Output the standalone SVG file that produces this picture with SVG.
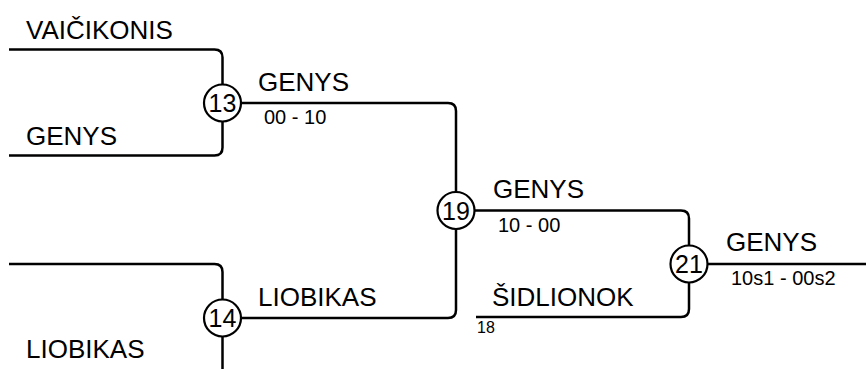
<svg xmlns="http://www.w3.org/2000/svg" width="866" height="369" viewBox="0 0 866 369">
<style>
.ln{fill:none;stroke:#000;stroke-width:2.5;stroke-linejoin:round}
.c{fill:#fff;stroke:#000;stroke-width:2.2}
.nm{font-family:"Liberation Sans",Arial,sans-serif;font-size:26px;fill:#000}
.sc{font-family:"Liberation Sans",Arial,sans-serif;font-size:20px;fill:#000}
.sm{font-family:"Liberation Sans",Arial,sans-serif;font-size:16px;fill:#000}
.num{font-family:"Liberation Sans",Arial,sans-serif;font-size:25px;fill:#000;text-anchor:middle}
</style>
<rect width="866" height="369" fill="#fff"/>
<g id="connectors">
<path class="ln" d="M9,49.5 H214.5 Q222.5,49.5 222.5,57.5 V147.5 Q222.5,155.5 214.5,155.5 H9"/>
<path class="ln" d="M222.5,103 H448 Q456,103 456,111 V310 Q456,318 448,318 H222.5"/>
<path class="ln" d="M9,264 H214.5 Q222.5,264 222.5,272 V369"/>
<path class="ln" d="M456,210.5 H681 Q689,210.5 689,218.5 V309 Q689,317 681,317 H476"/>
<path class="ln" d="M689,264 H866"/>
</g>
<g id="m13"><circle class="c" cx="222.5" cy="103" r="18.5"/><text class="num" x="222.5" y="112">13</text></g>
<g id="m14"><circle class="c" cx="222.5" cy="318" r="18.5"/><text class="num" x="222.5" y="327">14</text></g>
<g id="m19"><circle class="c" cx="456" cy="210.5" r="18.5"/><text class="num" x="456" y="219.5">19</text></g>
<g id="m21"><circle class="c" cx="689" cy="264" r="18.5"/><text class="num" x="689" y="273">21</text></g>
<g id="labels">
<text class="nm" x="26" y="39">VAIČIKONIS</text>
<text class="nm" x="26" y="145">GENYS</text>
<text class="nm" x="258" y="91">GENYS</text>
<text class="sc" x="264" y="124">00 - 10</text>
<text class="nm" x="26" y="358">LIOBIKAS</text>
<text class="nm" x="258" y="306">LIOBIKAS</text>
<text class="nm" x="493" y="198">GENYS</text>
<text class="sc" x="498" y="231.5">10 - 00</text>
<text class="nm" x="492" y="306">ŠIDLIONOK</text>
<text class="sm" x="477" y="333">18</text>
<text class="nm" x="726" y="251">GENYS</text>
<text class="sc" x="731" y="285">10s1 - 00s2</text>
</g>
</svg>
